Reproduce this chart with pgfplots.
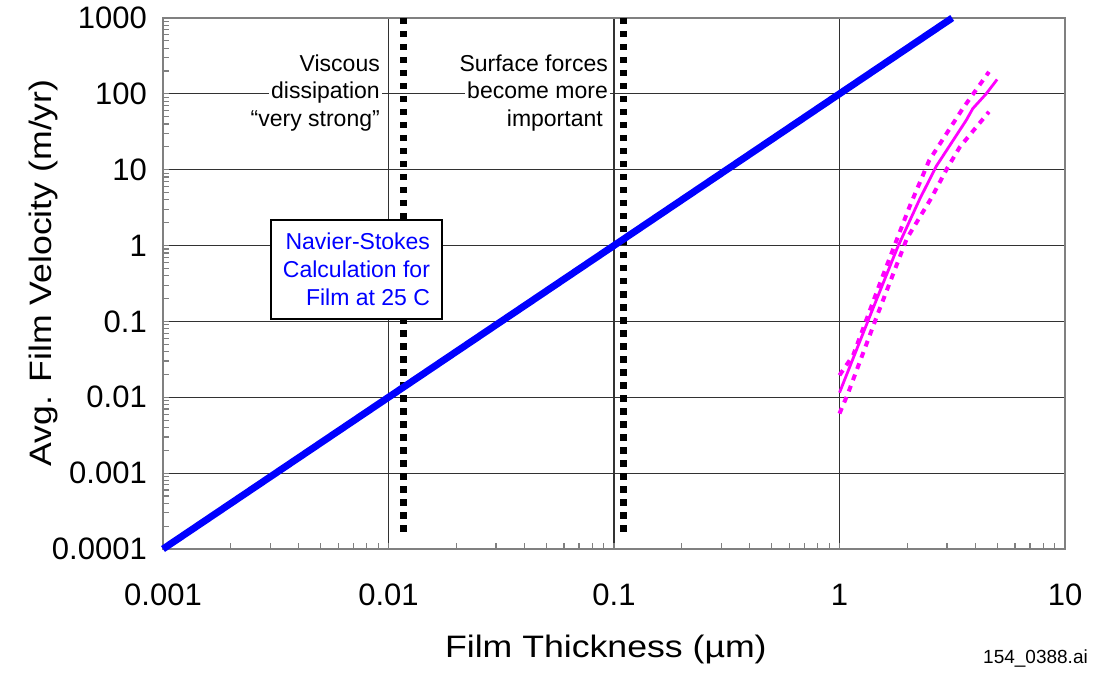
\documentclass[border=0pt]{standalone}
\usepackage{fontspec}
\setmainfont{Liberation Sans}
\newfontfamily\widefont[FakeStretch=1.15]{Liberation Sans}
\usepackage{pgfplots}
\pgfplotsset{compat=1.18}
\definecolor{gridc}{RGB}{50,50,50}
\definecolor{framec}{RGB}{128,128,128}
\definecolor{navblue}{RGB}{0,0,255}
\definecolor{mag}{RGB}{255,0,255}
\begin{document}
\begin{tikzpicture}
\path[use as bounding box] (0,0) rectangle (1095pt,677pt);
\begin{axis}[
 at={(163pt,128pt)}, anchor=south west,
 scale only axis, width=902pt, height=531pt,
 xmode=log, ymode=log,
 xmin=0.001, xmax=10, ymin=0.0001, ymax=1000,
 xtick={0.001,0.01,0.1,1,10}, xticklabels={0.001,0.01,0.1,1,10},
 ytick={0.0001,0.001,0.01,0.1,1,10,100,1000},
 yticklabels={0.0001,0.001,0.01,0.1,1,10,100,1000},
 major tick length=0pt, minor tick length=6pt, tick align=inside,
 xtick pos=bottom, ytick pos=left,
 tick style={framec, line width=1.2pt},
 grid=major, major grid style={gridc, line width=1.2pt},
 axis line style={framec, line width=1.8pt},
 ticklabel style={font=\fontsize{31}{36}\selectfont, inner sep=0pt},
 xticklabel style={anchor=base, yshift=-56pt},
 yticklabel style={anchor=east, xshift=-16pt},
 xlabel={Film Thickness (µm)},
 ylabel={Avg. Film Velocity (m/yr)},
 label style={font=\widefont\fontsize{31}{36}\selectfont},
 xlabel style={at={(axis description cs:0.491,0)}, anchor=base, yshift=-108pt},
 ylabel style={at={(axis description cs:-0.132,0.52)}, anchor=center},
 clip=false,
]
% annotations (white background per line, under dashed lines)
\node[anchor=base east, inner sep=2pt, fill=white, font=\fontsize{23}{27}\selectfont]
  at (rel axis cs:0.2428,0.8983) {Viscous};
\node[anchor=base east, inner sep=2pt, fill=white, font=\fontsize{23}{27}\selectfont]
  at (rel axis cs:0.2428,0.8475) {dissipation};
\node[anchor=base east, inner sep=2pt, fill=white, font=\fontsize{23}{27}\selectfont]
  at (rel axis cs:0.2428,0.7966) {“very strong”};
\node[anchor=base east, inner sep=2pt, fill=white, font=\fontsize{23}{27}\selectfont]
  at (rel axis cs:0.4956,0.8983) {Surface forces};
\node[anchor=base east, inner sep=2pt, fill=white, font=\fontsize{23}{27}\selectfont]
  at (rel axis cs:0.4956,0.8475) {become more};
\node[anchor=base east, inner sep=2pt, fill=white, font=\fontsize{23}{27}\selectfont]
  at (rel axis cs:0.4900,0.7966) {important};
% vertical dashed lines
\addplot[black, line width=7pt, dash pattern=on 6.5pt off 6.5pt] coordinates {(0.0117,1000) (0.0117,0.000144)};
\addplot[black, line width=7pt, dash pattern=on 6.5pt off 6.5pt] coordinates {(0.11,1000) (0.11,0.000144)};
% Navier-Stokes line
\addplot[navblue, line width=7pt] coordinates {(0.001,0.0001) (3.16,1000)};
% measured data
\addplot[mag, line width=2.8pt] coordinates {
 (1,0.0115) (1.36,0.115) (1.81,0.95) (2.26,4.0) (2.68,11) (3.65,45) (3.9,64) (4.47,100) (5.0,155)};
\addplot[mag, line width=4pt, dash pattern=on 6pt off 6pt] coordinates {
 (1,0.0195) (1.15,0.036) (1.53,0.35) (2.04,3.2) (2.5,13.3) (3.52,64) (4.6,195)};
\addplot[mag, line width=4pt, dash pattern=on 6pt off 6pt] coordinates {
 (1,0.0061) (1.09,0.0112) (1.48,0.127) (1.99,1.24) (2.55,4.2) (3.0,10.4) (3.42,20) (4.6,58)};
% box
\node[draw=black, line width=2pt, fill=white, align=right, anchor=north west,
      inner xsep=12pt, inner ysep=13pt, text=navblue,
      font=\fontsize{23}{28}\selectfont] at (rel axis cs:0.1186,0.6215)
      {Navier-Stokes\\Calculation for\\Film at 25 C};
\end{axis}
\node[anchor=base east, inner sep=0pt, font=\fontsize{19}{22}\selectfont] at (1088pt,13pt) {154\_0388.ai};
\end{tikzpicture}
\end{document}
